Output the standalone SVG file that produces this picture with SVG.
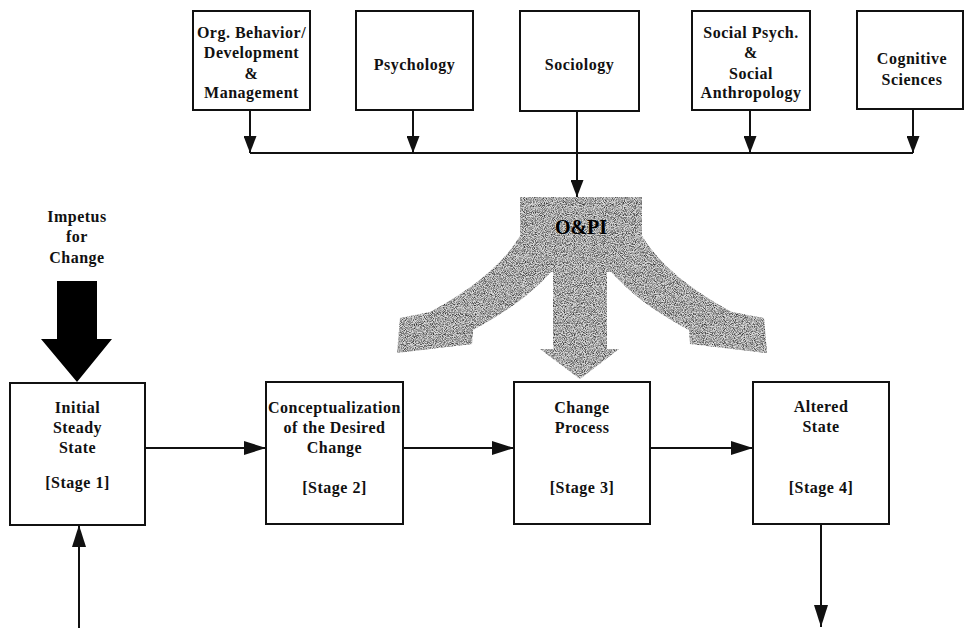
<svg xmlns="http://www.w3.org/2000/svg" width="964" height="628" viewBox="0 0 964 628">
<style>
.box{fill:#fff;stroke:#111;stroke-width:2}
.t{font-family:"Liberation Serif","Times New Roman",serif;font-weight:bold;font-size:16px;letter-spacing:0.5px;text-anchor:middle;fill:#111}
.c{fill:none;stroke:#111;stroke-width:2}
</style>
<defs>
<marker id="ah" viewBox="0 0 22 14" refX="22" refY="7" markerWidth="22" markerHeight="14" markerUnits="userSpaceOnUse" orient="auto"><path d="M0,0 L22,7 L0,14 z" fill="#111"/></marker>
<marker id="as" viewBox="0 0 17 13" refX="17" refY="6.5" markerWidth="17" markerHeight="13" markerUnits="userSpaceOnUse" orient="auto"><path d="M0,0 L17,6.5 L0,13 z" fill="#111"/></marker>
<filter id="stip" x="-5%" y="-5%" width="110%" height="110%" color-interpolation-filters="sRGB">
<feTurbulence type="fractalNoise" baseFrequency="1.1" numOctaves="1" seed="7" result="n"/>
<feColorMatrix in="n" type="matrix" values="0 0 0 0 0.2  0 0 0 0 0.2  0 0 0 0 0.2  2.6 0 0 0 -1.0" result="dots"/>
<feComposite in="dots" in2="SourceAlpha" operator="in" result="d"/>
<feFlood flood-color="#d8d8d8" result="w"/>
<feComposite in="w" in2="SourceAlpha" operator="in" result="base"/>
<feMerge><feMergeNode in="base"/><feMergeNode in="d"/></feMerge>
</filter>
</defs>

<g id="connectors">
<line class="c" x1="250" y1="153" x2="913" y2="153"/>
<line class="c" x1="250" y1="110" x2="250" y2="153" marker-end="url(#as)"/>
<line class="c" x1="413" y1="110" x2="413" y2="153" marker-end="url(#as)"/>
<line class="c" x1="577" y1="111" x2="577" y2="197" marker-end="url(#as)"/>
<line class="c" x1="750" y1="110" x2="750" y2="153" marker-end="url(#as)"/>
<line class="c" x1="913" y1="109" x2="913" y2="153" marker-end="url(#as)"/>
<line class="c" x1="145" y1="448" x2="266" y2="448" marker-end="url(#ah)"/>
<line class="c" x1="403" y1="448" x2="514" y2="448" marker-end="url(#ah)"/>
<line class="c" x1="650" y1="448" x2="753" y2="448" marker-end="url(#ah)"/>
<line class="c" x1="79" y1="628" x2="79" y2="525" marker-end="url(#ah)"/>
<line class="c" x1="821" y1="524" x2="821" y2="627" marker-end="url(#ah)"/>
</g>

<g id="org-behavior">
<rect class="box" x="193" y="11" width="117" height="99"/>
<text class="t" x="251.5" y="38">Org. Behavior/</text>
<text class="t" x="251.5" y="58">Development</text>
<text class="t" x="251.5" y="79">&amp;</text>
<text class="t" x="251.5" y="98">Management</text>
</g>
<g id="psychology">
<rect class="box" x="356" y="11" width="117" height="99"/>
<text class="t" x="414.5" y="70">Psychology</text>
</g>
<g id="sociology">
<rect class="box" x="520" y="11" width="119" height="100"/>
<text class="t" x="579.5" y="70">Sociology</text>
</g>
<g id="social-psych">
<rect class="box" x="692" y="11" width="118" height="99"/>
<text class="t" x="751" y="38">Social Psych.</text>
<text class="t" x="751" y="58">&amp;</text>
<text class="t" x="751" y="79">Social</text>
<text class="t" x="751" y="98">Anthropology</text>
</g>
<g id="cognitive">
<rect class="box" x="857" y="11" width="106" height="98"/>
<text class="t" x="912" y="64">Cognitive</text>
<text class="t" x="912" y="85">Sciences</text>
</g>

<g id="opi">
<g filter="url(#stip)" fill="#000">
<rect x="520" y="197" width="122" height="75"/>
<rect x="553" y="250" width="54" height="100"/>
<polygon points="540,349 619,349 580,379"/>
<path d="M520,236 C505,260 480,285 430,312 L400,318 L397,353 L472,344 L473,330 C505,313 535,292 556,266 Z"/>
<path d="M642,236 C657,260 682,285 732,312 L764,318 L767,353 L690,344 L689,330 C657,313 627,292 606,266 Z"/>
</g>
<text class="t" x="581" y="234" style="font-size:20px;letter-spacing:0;fill:#000">O&amp;PI</text>
</g>

<g id="impetus">
<text class="t" x="77" y="222">Impetus</text>
<text class="t" x="77" y="242">for</text>
<text class="t" x="77" y="263">Change</text>
<polygon points="57,281 97,281 97,339 112,339 77,382 41,339 57,339" fill="#000"/>
</g>

<g id="stage1">
<rect class="box" x="10" y="383" width="135" height="142"/>
<text class="t" x="77.5" y="413">Initial</text>
<text class="t" x="77.5" y="433">Steady</text>
<text class="t" x="77.5" y="453">State</text>
<text class="t" x="77.5" y="488">[Stage 1]</text>
</g>
<g id="stage2">
<rect class="box" x="266" y="382" width="137" height="142"/>
<text class="t" x="334.5" y="413">Conceptualization</text>
<text class="t" x="334.5" y="433">of the Desired</text>
<text class="t" x="334.5" y="453">Change</text>
<text class="t" x="334.5" y="493">[Stage 2]</text>
</g>
<g id="stage3">
<rect class="box" x="514" y="382" width="136" height="142"/>
<text class="t" x="582" y="413">Change</text>
<text class="t" x="582" y="433">Process</text>
<text class="t" x="582" y="493">[Stage 3]</text>
</g>
<g id="stage4">
<rect class="box" x="753" y="382" width="136" height="142"/>
<text class="t" x="821" y="412">Altered</text>
<text class="t" x="821" y="432">State</text>
<text class="t" x="821" y="493">[Stage 4]</text>
</g>
</svg>
